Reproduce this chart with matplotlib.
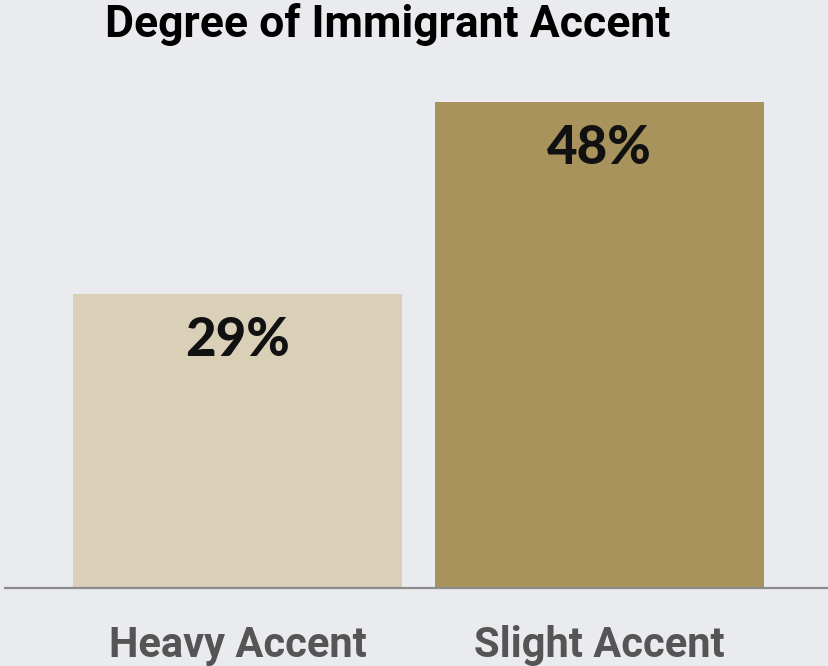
import matplotlib.pyplot as plt

categories = ["Heavy Accent", "Slight Accent"]
values = [29, 48]
labels = ["29%", "48%"]
colors = ["#DAD0B8", "#A8935C"]

fig = plt.figure(figsize=(8.29, 6.66), dpi=100)
fig.patch.set_facecolor("#E9EBEE")

ax = fig.add_axes([5 / 829, 1 - 588 / 666, 824 / 829, 486 / 666])
ax.set_facecolor("none")

x = list(range(len(categories)))
ax.bar(x, values, width=0.909, color=colors, zorder=2)
ax.set_xlim(-0.642, 1.634)
ax.set_ylim(0, 48)

for xi, v, lab in zip(x, values, labels):
    ax.text(xi, v - 4.6, lab, ha="center", va="center", fontsize=38,
            fontweight="black", family="Lato", color="#111111", zorder=3)

for s in ["top", "right", "left"]:
    ax.spines[s].set_visible(False)
ax.spines["bottom"].set_color("#8C8C8C")
ax.spines["bottom"].set_linewidth(1.6)
ax.spines["bottom"].set_zorder(4)
ax.set_yticks([])
ax.set_xticks(x)
ax.set_xticklabels(categories, fontsize=30, fontweight="bold", family="Roboto",
                   color="#555555")
ax.tick_params(axis="x", length=0, pad=27)

fig.text(388 / 829, 1 - 24 / 666, "Degree of Immigrant Accent", ha="center",
         va="center", fontsize=32, fontweight="bold", family="Roboto",
         color="#000000")

fig.savefig("out.png", dpi=100, facecolor=fig.get_facecolor())
